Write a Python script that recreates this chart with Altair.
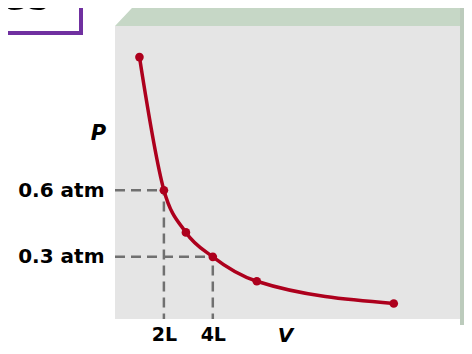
import altair as alt
import pandas as pd

# Boyle's law curve
volume = [1.0, 2.0, 2.9, 4.0, 5.8, 11.4]      # litres
pressure = [1.2, 0.6, 0.41, 0.3, 0.19, 0.09]  # atm

# highlighted points with dashed guides
guide_volume = [2, 4]
guide_pressure = [0.6, 0.3]

# tick labels
y_ticks = [0.3, 0.6]
x_ticks = [2, 4]

X_DOMAIN = [0, 14.11]
Y_DOMAIN = [0.02, 1.34]
RED = "#ad001d"
FONT = "DejaVu Sans"

curve = pd.DataFrame({"V": volume, "P": pressure})

rows = []
for v, p in zip(guide_volume, guide_pressure):
    rows.append({"x": 0, "x2": v, "y": p, "y2": p})
    rows.append({"x": v, "x2": v, "y": 0, "y2": p})
guides = pd.DataFrame(rows)

# decorative 3D top edge of the panel (in data units, just above the plot)
top = Y_DOMAIN[1]
band = pd.DataFrame({"V": [0, 0.735, 14.3], "lo": [top, top, top], "hi": [top, top + 0.086, top + 0.086]})
one = pd.DataFrame({"k": [0]})

xs = alt.Scale(domain=X_DOMAIN, nice=False, zero=False)
ys = alt.Scale(domain=Y_DOMAIN, nice=False, zero=False)

x_axis = alt.Axis(
    values=x_ticks, labelExpr="datum.value + 'L'", grid=False, domain=False,
    ticks=False, tickSize=0, labelPadding=6, labelFont=FONT, labelFontSize=19,
    labelFontWeight="bold", labelColor="black", title="V", titleFont=FONT,
    titleFontSize=20, titleFontWeight="bold", titleFontStyle="italic",
    titleX=170, titleY=6, titleBaseline="top", titleAlign="center", titleColor="black",
)
y_axis = alt.Axis(
    values=y_ticks, format=".1f", labelExpr="datum.label + ' atm'", grid=False,
    domain=False, ticks=False, tickSize=0, labelPadding=11, labelFont=FONT,
    labelFontSize=20, labelFontWeight="bold", labelColor="black", title="P",
    titleFont=FONT, titleFontSize=21, titleFontWeight="bold", titleFontStyle="italic",
    titleAngle=0, titleX=-17, titleY=107, titleAlign="center", titleBaseline="middle",
    titleColor="black",
)

band_layer = alt.Chart(band).mark_area(color="#c6d7c6").encode(
    x=alt.X("V:Q", scale=xs, axis=x_axis), y=alt.Y("lo:Q", scale=ys, axis=y_axis), y2="hi:Q"
)
side_layer = alt.Chart(one).mark_rect(color="#bccbbc").encode(
    x=alt.value(345), x2=alt.value(350), y=alt.value(-19), y2=alt.value(299)
)
box_layer = alt.Chart(one).mark_rect(fill="white", stroke="#7030a0", strokeWidth=4).encode(
    x=alt.value(-119), x2=alt.value(-34), y=alt.value(-40), y2=alt.value(7)
)
box_text = alt.Chart(one).mark_text(
    text="es", align="left", baseline="alphabetic", fontSize=50, font="Open Sans", color="black"
).encode(x=alt.value(-116), y=alt.value(-16))

guide_layer = alt.Chart(guides).mark_rule(
    color="#707070", strokeWidth=2.5, strokeDash=[10, 6], clip=True
).encode(
    x=alt.X("x:Q", scale=xs, axis=x_axis), x2="x2:Q",
    y=alt.Y("y:Q", scale=ys, axis=y_axis), y2="y2:Q",
)

line_layer = alt.Chart(curve).mark_line(
    color=RED, strokeWidth=3.5, interpolate="monotone"
).encode(
    x=alt.X("V:Q", scale=xs, axis=x_axis),
    y=alt.Y("P:Q", scale=ys, axis=y_axis),
)
point_layer = alt.Chart(curve).mark_circle(color=RED, size=75, opacity=1).encode(
    x=alt.X("V:Q", scale=xs, axis=x_axis), y=alt.Y("P:Q", scale=ys, axis=y_axis)
)

chart = alt.layer(
    band_layer, side_layer, box_layer, box_text, guide_layer, line_layer, point_layer
).properties(
    width=345, height=293,
    autosize=alt.AutoSizeParams(type="none"),
    padding={"left": 107, "top": 18, "right": 4, "bottom": 27},
).configure_view(
    fill="#e5e5e5", stroke=None
)

chart.save("out.html", embed_options={"renderer": "svg", "actions": False})
